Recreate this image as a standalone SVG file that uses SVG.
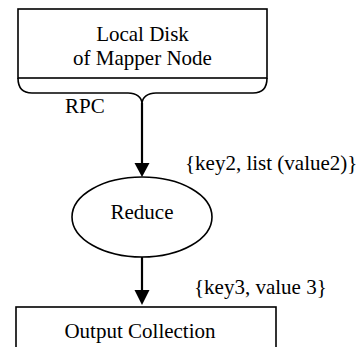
<svg xmlns="http://www.w3.org/2000/svg" width="359" height="347" viewBox="0 0 359 347">
<style>
text{font-family:'Liberation Serif','Times New Roman',Times,serif;font-size:21px;fill:#000}
.s{fill:none;stroke:#000;stroke-width:1.6}
.c{fill:none;stroke:#000;stroke-width:2.2}
</style>
<rect width="359" height="347" fill="#fff"/>
<g id="local-disk">
<rect class="s" x="18" y="9" width="249" height="69"/>
<text x="142.5" y="41" text-anchor="middle" font-family="Liberation Serif, serif">Local Disk</text>
<text x="142.5" y="65" text-anchor="middle" font-family="Liberation Serif, serif">of Mapper Node</text>
</g>
<g id="rpc-brace">
<path class="s" d="M18,78 C18,88 22,93 32,93 H128 C136,93 142,97 142,104 C142,97 148,93 156,93 H253 C263,93 267,88 267,78"/>
<text x="65" y="113" font-family="Liberation Serif, serif">RPC</text>
</g>
<g id="reduce">
<ellipse class="s" cx="142" cy="217" rx="70" ry="40"/>
<text x="142" y="219" text-anchor="middle" font-family="Liberation Serif, serif">Reduce</text>
</g>
<g id="output-collection">
<rect class="s" x="16" y="307" width="260" height="60"/>
<text x="140" y="338" text-anchor="middle" font-family="Liberation Serif, serif">Output Collection</text>
</g>
<g id="connectors">
<line class="c" x1="142" y1="103" x2="142" y2="164"/>
<path d="M134.5,163 L149.5,163 L142,177 Z" fill="#000"/>
<line class="c" x1="142" y1="257" x2="142" y2="291"/>
<path d="M134.5,290 L149.5,290 L142,305 Z" fill="#000"/>
<text x="185" y="170" font-family="Liberation Serif, serif">{key2, list (value2)}</text>
<text x="194" y="294" font-family="Liberation Serif, serif">{key3, value 3}</text>
</g>
</svg>
